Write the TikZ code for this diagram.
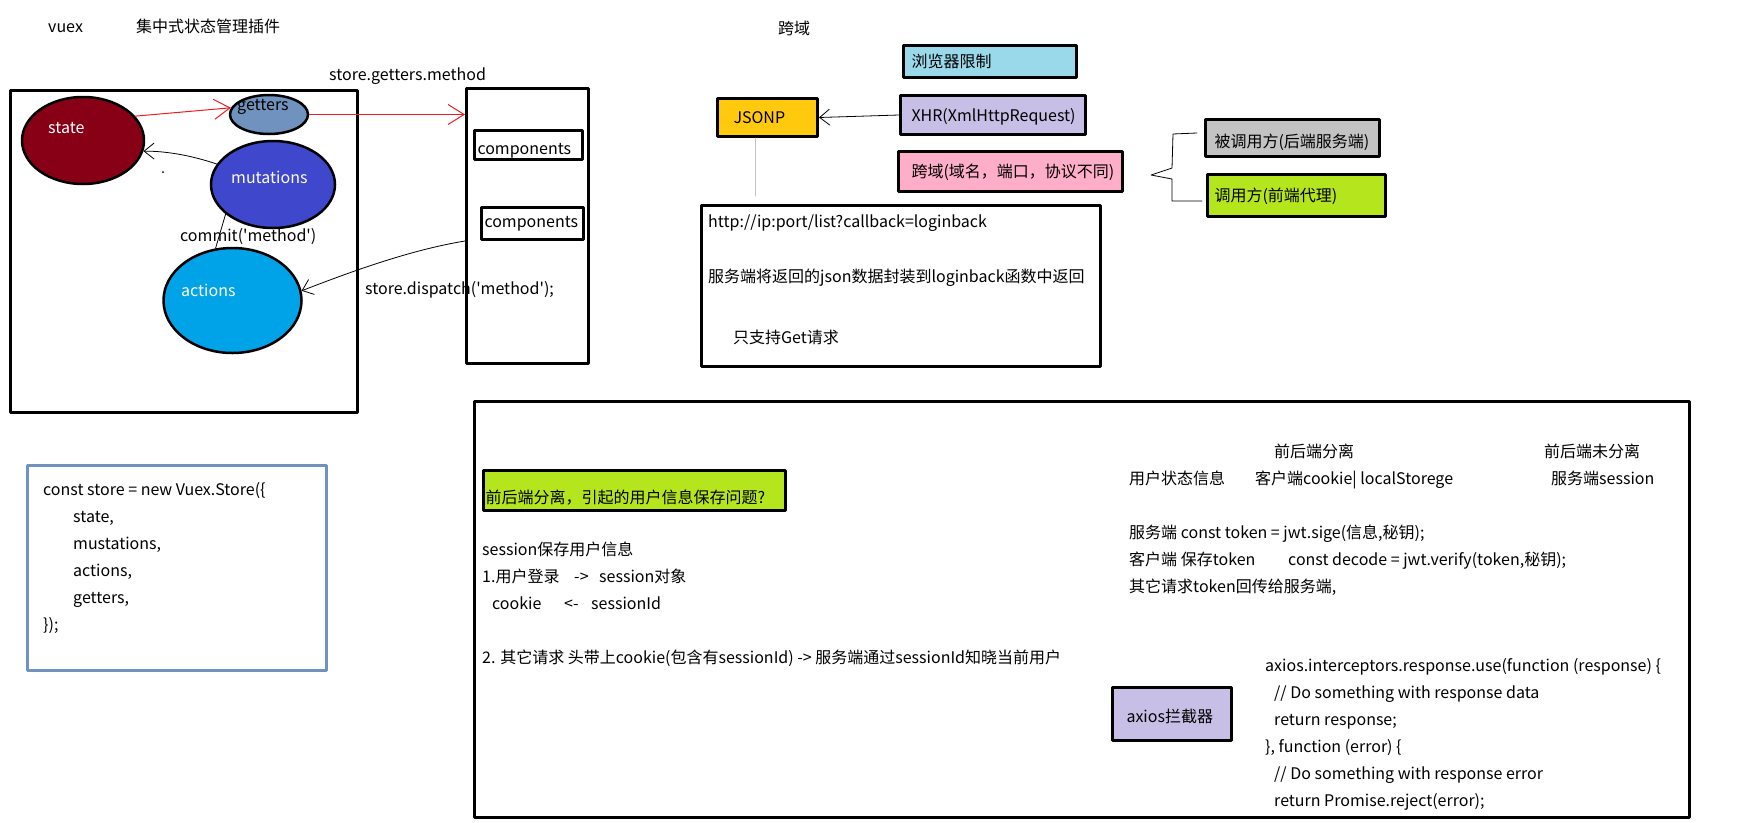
\documentclass[tikz,border=0pt]{standalone}
\usepackage{fontspec}
\setmainfont{Noto Sans CJK SC}[Ligatures=TeXOff]
\usetikzlibrary{shapes.geometric,arrows.meta}
\definecolor{statered}{HTML}{880015}
\definecolor{gettersblue}{HTML}{7092BE}
\definecolor{mutblue}{HTML}{3F48CC}
\definecolor{actblue}{HTML}{00A2E8}
\definecolor{browserblue}{HTML}{99D9EA}
\definecolor{jsonpyellow}{HTML}{FFC90E}
\definecolor{lavender}{HTML}{C8BFE7}
\definecolor{pinkbox}{HTML}{FFAEC9}
\definecolor{greybox}{HTML}{C3C3C3}
\definecolor{limebox}{HTML}{B5E61D}
\definecolor{paintred}{HTML}{ED1C24}
\hyphenpenalty=10000
\exhyphenpenalty=10000

\begin{document}
\begin{tikzpicture}[x=1pt,y=-1pt,line cap=round,line join=round,
	every node/.style={font=\fontsize{16}{19}\selectfont},
	txt/.style={anchor=base west,inner sep=0pt},
	frame/.style={draw,line width=3pt,anchor=north west,inner sep=0pt},
	cbox/.style={draw,line width=3pt,anchor=north west,inner ysep=0pt,align=left,text height=14pt,text depth=2pt},
	ell/.style={ellipse,draw,line width=2.5pt,inner sep=0pt},
	redarr/.style={draw=paintred,line width=1pt,-{Straight Barb[length=16pt,width=20pt]}},
	blkarr/.style={line width=0.8pt,-{Straight Barb[length=10pt,width=16pt]}}]
	\useasboundingbox (0,0) rectangle (1747,822);

	% titles
	\node[txt] (vuex) at (48,32) {vuex};
	\node[txt] (vuexdesc) at (136,32) {集中式状态管理插件};
	\node[txt] (cors) at (778,34) {跨域};

	% vuex part
	\node[frame,minimum width=347,minimum height=322] (vuexbox) at (9,89) {};
	\node[ell,fill=statered,minimum width=122,minimum height=87] (state) at (83,140.5) {};
	\node[ell,fill=gettersblue,minimum width=78,minimum height=39] (getters) at (269,114.5) {};
	\node[ell,fill=mutblue,minimum width=124,minimum height=87] (mutations) at (273,184.5) {};
	\node[ell,fill=actblue,minimum width=138,minimum height=105] (actions) at (232.5,300.5) {};
	\node[txt,text=white] (stateLbl) at (48,133) {state};
	\node[txt] (gettersLbl) at (237,110) {getters};
	\node[txt,text=white] (mutationsLbl) at (231,183) {mutations};
	\node[txt,text=white] (actionsLbl) at (181,296) {actions};
	\node[txt] (commit) at (180,241) {commit('method')};
	\fill (163,172) circle (1pt);

	\node[frame,minimum width=122,minimum height=275] (compcol) at (465,87) {};
	\node[cbox,inner xsep=3pt,text width=102pt,minimum height=29,text height=21pt] (comp1) at (473,129) {components};
	\node[cbox,inner xsep=3pt,text width=96pt,minimum height=32,text height=10pt] (comp2) at (480,206) {components};
	\node[txt] (gettersmethod) at (329,80) {store.getters.method};
	\node[txt] (dispatch) at (365,294) {store.dispatch('method');};

	\draw[redarr] (state.25) -- (getters.170);
	\draw[redarr] (getters.east) -- (getters.east -| compcol.west);
	\draw[blkarr] (mutations.160) .. controls (190,155) and (165,151) .. (state.-10);
	\draw[line width=0.8pt] (mutations.212) -- (actions.108);
	\draw[blkarr] (compcol.west |- comp2.south) .. controls (410,250) and (350,272) .. (actions.8);

	% code box
	\node[frame,draw=gettersblue,line width=2.5pt,minimum width=299,minimum height=205] (codebox) at (26,464) {};
	\node[txt] (code1) at (43,495) {const store = new Vuex.Store(\{};
	\node[txt] (code2) at (73,522) {state,};
	\node[txt] (code3) at (73,549) {mustations,};
	\node[txt] (code4) at (73,576) {actions,};
	\node[txt] (code5) at (73,603) {getters,};
	\node[txt] (code6) at (43,630) {\});};

	% cross domain part
	\node[cbox,fill=browserblue,inner xsep=8pt,text width=157pt,minimum height=32] (browser) at (902,44) {浏览器限制};
	\node[cbox,fill=jsonpyellow,inner xsep=16pt,text width=68pt,minimum height=38] (jsonp) at (716,97) {JSONP};
	\node[cbox,fill=lavender,inner xsep=11pt,text width=163pt,minimum height=39] (xhr) at (899,94) {XHR(XmlHttpRequest)};
	\node[cbox,fill=pinkbox,inner xsep=13pt,text width=198pt,minimum height=40] (crossbox) at (897,150) {跨域(域名，端口，协议不同)};
	\node[cbox,fill=greybox,inner xsep=9pt,text width=156pt,minimum height=37,text height=20pt] (callee) at (1204,118) {被调用方(后端服务端)};
	\node[cbox,fill=limebox,inner xsep=7pt,text width=164pt,minimum height=42] (caller) at (1206,173) {调用方(前端代理)};
	\draw[line width=0.8pt] (1197,133) -- (1173,134) -- (1172,168) -- (1151,175) -- (1172,179) -- (1172,201) -- (1202,201);

	\draw[blkarr] (xhr.west) -- (jsonp.east);
	\draw[greybox,line width=1pt] ([xshift=-12pt]jsonp.south) -- ++(0,58);

	\node[frame,minimum width=399,minimum height=161] (urlbox) at (699.5,203.5) {};
	\node[txt] (url1) at (708,227) {http://ip:port/list?callback=loginback};
	\node[txt] (url2) at (708,282) {服务端将返回的json数据封装到loginback函数中返回};
	\node[txt] (url3) at (733,343) {只支持Get请求};

	% session / token part
	\node[frame,minimum width=1215,minimum height=416] (bottombox) at (473,399.5) {};
	\node[cbox,fill=limebox,inner xsep=2pt,text width=298pt,minimum height=40,text height=28pt] (question) at (482,469) {前后端分离，引起的用户信息保存问题?};
	\node[txt] (sess1) at (482,555) {session保存用户信息};
	\node[txt] (sess2) at (482,582) {1.用户登录};
	\node[txt] (sess2a) at (574,582) {->};
	\node[txt] (sess2b) at (599,582) {session对象};
	\node[txt] (sess3) at (492,609) {cookie};
	\node[txt] (sess3a) at (564,609) {<-};
	\node[txt] (sess3b) at (591,609) {sessionId};
	\node[txt] (sess4) at (482,663) {2. 其它请求 头带上cookie(包含有sessionId) -> 服务端通过sessionId知晓当前用户};

	\node[txt] (sepHead) at (1274,457) {前后端分离};
	\node[txt] (nosepHead) at (1544,457) {前后端未分离};
	\node[txt] (userstate) at (1129,484) {用户状态信息};
	\node[txt] (sepVal) at (1255,484) {客户端cookie| localStorege};
	\node[txt] (nosepVal) at (1551,484) {服务端session};
	\node[txt] (tok1) at (1129,538) {服务端 const token = jwt.sige(信息,秘钥);};
	\node[txt] (tok2) at (1129,565) {客户端 保存token};
	\node[txt] (tok2b) at (1288,565) {const decode = jwt.verify(token,秘钥);};
	\node[txt] (tok3) at (1129,592) {其它请求token回传给服务端,};

	\node[cbox,fill=lavender,inner xsep=14pt,text width=91pt,minimum height=53,text height=19pt] (axios) at (1111,686) {axios拦截器};
	\node[txt] (ax1) at (1265,671) {axios.interceptors.response.use(function (response) \{};
	\node[txt] (ax2) at (1274,698) {// Do something with response data};
	\node[txt] (ax3) at (1274,725) {return response;};
	\node[txt] (ax4) at (1265,752) {\}, function (error) \{};
	\node[txt] (ax5) at (1274,779) {// Do something with response error};
	\node[txt] (ax6) at (1274,806) {return Promise.reject(error);};
\end{tikzpicture}
\end{document}
